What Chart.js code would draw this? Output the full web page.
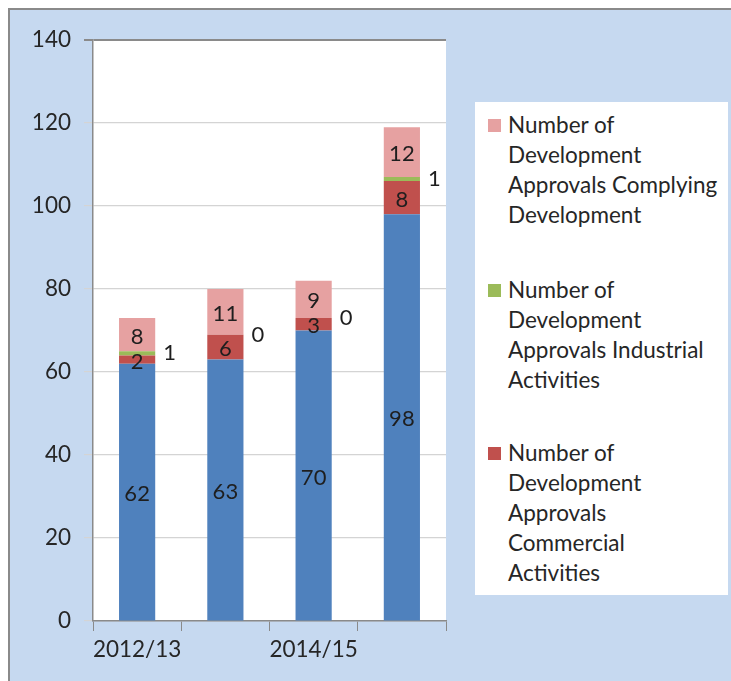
<!DOCTYPE html>
<html>
<head>
<meta charset="utf-8">
<script src="https://cdn.jsdelivr.net/npm/chart.js@4"></script>
<style>
  html, body { margin: 0; padding: 0; background: #fff; }
  #frame {
    position: absolute; left: 8px; top: 8px; width: 723px; height: 673px;
    background: #c6d9f0; border-top: 2px solid #8a8a8a; border-left: 2px solid #8a8a8a;
    box-sizing: border-box;
  }
  #wrap { position: absolute; left: 0; top: 0; width: 731px; height: 681px; }
  #legendBox {
    position: absolute; left: 475px; top: 102px; width: 253px; height: 493px;
    background: #fff; font-family: Lato, "Open Sans", sans-serif; font-size: 22.5px;
    color: #262626; box-sizing: border-box;
  }
  .leg-item { position: absolute; left: 33px; line-height: 30px; white-space: nowrap; }
  .leg-sw { position: absolute; left: -20px; top: 9px; width: 13px; height: 13px; }
</style>
</head>
<body>
<div id="frame"></div>
<div id="wrap"><canvas id="chart" width="731" height="681"></canvas></div>
<div id="legendBox"></div>
<script>
  const years = ['2012/13', '2013/14', '2014/15', '2015/16'];
  const shownYears = ['2012/13', '2014/15'];

  const residential = [62, 63, 70, 98];
  const commercial = [2, 6, 3, 8];
  const industrial = [1, 0, 0, 1];
  const complying = [8, 11, 9, 12];

  const yTicks = [0, 20, 40, 60, 80, 100, 120, 140];

  const residentialName = 'Number of Development Approvals Residential';
  const commercialLines = ['Number of', 'Development', 'Approvals', 'Commercial', 'Activities'];
  const industrialLines = ['Number of', 'Development', 'Approvals Industrial', 'Activities'];
  const complyingLines = ['Number of', 'Development', 'Approvals Complying', 'Development'];

  const FONT = 'Lato, "Open Sans", sans-serif';
  const TXT = '#262626';

  // white plot background like the original
  const plotBg = {
    id: 'plotBg',
    beforeDraw(chart) {
      const a = chart.chartArea;
      const ctx = chart.ctx;
      ctx.save();
      ctx.fillStyle = '#ffffff';
      ctx.fillRect(a.left, a.top, a.right - a.left, a.bottom - a.top);
      ctx.restore();
    },
  };

  // value labels: centred in the segment, industrial ones beside the bar
  const valueLabels = {
    id: 'valueLabels',
    afterDatasetsDraw(chart) {
      const ctx = chart.ctx;
      ctx.save();
      ctx.font = '22px ' + FONT;
      ctx.fillStyle = '#1e1e1e';
      ctx.textBaseline = 'middle';
      chart.data.datasets.forEach((ds, di) => {
        const meta = chart.getDatasetMeta(di);
        meta.data.forEach((bar, i) => {
          const v = ds.data[i];
          const midY = (bar.y + bar.base) / 2;
          if (ds.side) {
            ctx.textAlign = 'left';
            ctx.fillText(String(v), bar.x + bar.width / 2 + 8, midY);
          } else {
            ctx.textAlign = 'center';
            ctx.fillText(String(v), bar.x, midY + 2);
          }
        });
      });
      ctx.restore();
    },
  };

  const chart = new Chart(document.getElementById('chart'), {
    type: 'bar',
    data: {
      labels: years,
      datasets: [
        { label: residentialName, data: residential, backgroundColor: '#4f81bd' },
        { label: commercialLines.join(' '), data: commercial, backgroundColor: '#c0504d' },
        { label: industrialLines.join(' '), data: industrial, backgroundColor: '#9bbb59', side: true },
        { label: complyingLines.join(' '), data: complying, backgroundColor: '#e6a1a1' },
      ],
    },
    options: {
      responsive: false,
      animation: false,
      events: [],
      layout: { padding: { left: 0, right: 285, top: 40, bottom: 0 } },
      datasets: { bar: { barPercentage: 0.41, categoryPercentage: 1 } },
      plugins: { legend: { display: false }, tooltip: { enabled: false } },
      scales: {
        x: {
          stacked: true,
          grid: { drawOnChartArea: false, drawTicks: true, tickLength: 10, color: '#8a8a8a', offset: true },
          border: { color: '#8a8a8a', width: 1.5 },
          ticks: {
            autoSkip: false,
            maxRotation: 0,
            color: TXT,
            font: { family: FONT, size: 22.5 },
            padding: 5,
            callback: (v, i) => (shownYears.includes(years[i]) ? years[i] : ''),
          },
          afterFit: (s) => { s.height = 60; },
        },
        y: {
          stacked: true,
          min: 0,
          max: 140,
          afterBuildTicks: (s) => { s.ticks = yTicks.map((v) => ({ value: v })); },
          grid: {
            color: (c) => (c.tick && c.tick.value === 140 ? '#8a8a8a' : '#d4d4d4'),
            lineWidth: (c) => (c.tick && c.tick.value === 140 ? 2 : 1.2),
            tickLength: 9,
          },
          border: { color: '#8a8a8a', width: 1.5 },
          ticks: { color: TXT, font: { family: FONT, size: 22.5 }, padding: 13 },
          afterFit: (s) => { s.width = 93; },
        },
      },
    },
    plugins: [plotBg, valueLabels],
  });

  // legend in its own white box, wrapped as in the original
  const legendItems = [
    { lines: complyingLines, color: '#e6a1a1', top: 110 },
    { lines: industrialLines, color: '#9bbb59', top: 275 },
    { lines: commercialLines, color: '#c0504d', top: 438 },
  ];
  const box = document.getElementById('legendBox');
  legendItems.forEach((it) => {
    const d = document.createElement('div');
    d.className = 'leg-item';
    d.style.top = (it.top - 102) + 'px';
    d.innerHTML = `<span class="leg-sw" style="background:${it.color}"></span>${it.lines.join('<br>')}`;
    box.appendChild(d);
  });
</script>
</body>
</html>
